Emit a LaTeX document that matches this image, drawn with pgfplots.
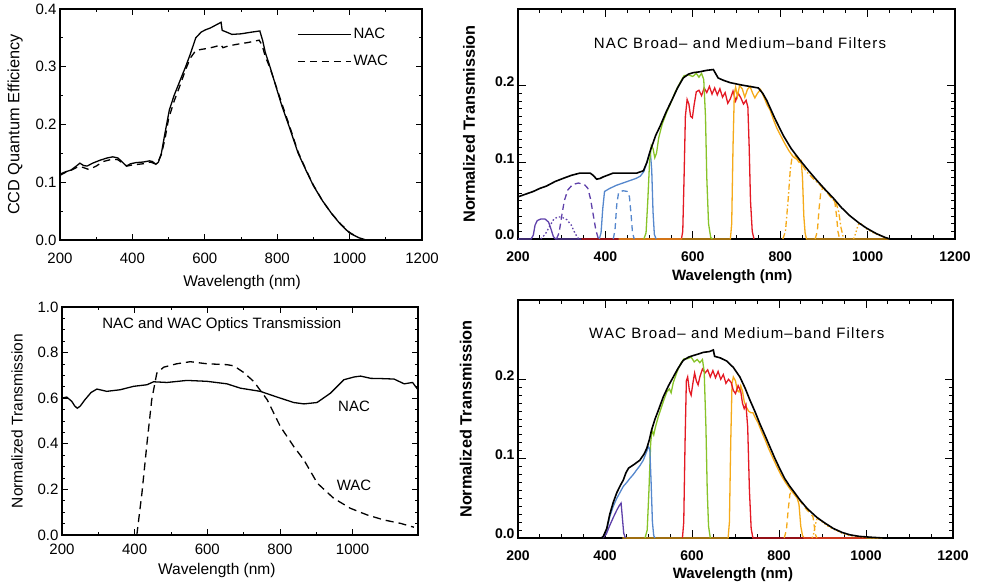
\documentclass[border=0pt]{standalone}
\usepackage{fontspec}
\setmainfont{Liberation Sans}
\usepackage{pgfplots}
\pgfplotsset{compat=1.18}
\definecolor{cpurple}{RGB}{95,65,170}
\definecolor{cblue}{RGB}{85,135,205}
\definecolor{cgreen}{RGB}{135,195,40}
\definecolor{cred}{RGB}{228,25,35}
\definecolor{corange}{RGB}{245,170,25}
\pgfplotsset{
  base/.style={scale only axis, clip=false, tick align=inside,
    /pgf/number format/assume math mode=true,
    xticklabel style={/pgf/number format/1000 sep={}},
    yticklabel style={/pgf/number format/fixed, /pgf/number format/fixed zerofill, /pgf/number format/precision=1},
    axis line style={line width=1.1pt}, tick style={line width=0.9pt, black},
    every axis plot/.append style={no marks},
  },
  panelL/.style={base, major tick length=6pt, minor tick length=3pt,
    tick label style={font=\fontsize{15}{15}\selectfont},
    label style={font=\fontsize{15.5}{15.5}\selectfont},
  },
  panelR/.style={base, major tick length=8pt, minor tick length=4pt,
    xmin=200, xmax=1200, ymin=0, ymax=0.3,
    xtick={200,400,...,1200}, ytick={0,0.1,0.2}, minor x tick num=3, minor y tick num=9,
    tick label style={font=\bfseries\fontsize{14}{14}\selectfont},
    label style={font=\bfseries\fontsize{15}{15}\selectfont},
    ylabel style={font=\bfseries\fontsize{16.3}{16.3}\selectfont},
    xticklabel style={yshift=-9pt},
    yticklabel style={yshift=4pt},
    xlabel={Wavelength (nm)}, ylabel={Normalized Transmission},
    every axis plot/.append style={line width=1.3pt},
  },
}
\begin{document}
\begin{tikzpicture}
\path[use as bounding box] (0pt,0pt) rectangle (981pt,585pt);

% ---------- Panel 1: CCD QE ----------
\begin{axis}[panelL, at={(60pt,345pt)}, anchor=south west, width=362pt, height=231pt,
  xmin=200, xmax=1200, ymin=0, ymax=0.4,
  xtick={200,400,...,1200}, ytick={0,0.1,0.2,0.3,0.4}, minor x tick num=1, minor y tick num=1,
  xticklabel style={yshift=-10pt},
  xlabel={Wavelength (nm)}, ylabel={CCD Quantum Efficiency},
  xlabel style={at={(axis description cs:0.503,-0.186)}, anchor=center},
  ylabel style={at={(axis description cs:-0.124,0.5)}, anchor=center, font=\fontsize{16.3}{16.3}\selectfont},
  legend style={draw=none, fill=none, at={(axis description cs:0.655,0.925)}, anchor=north west,
    font=\fontsize{15}{15}\selectfont, row sep=11pt, inner sep=0pt},
  legend cell align=left,
  legend image code/.code={\draw[#1] (0pt,0pt) -- (53pt,0pt);},
]
\addplot[black, line width=1.3pt] coordinates {(200,0.114)(215,0.118)(230,0.121)(245,0.128)(255,0.133)(265,0.129)(275,0.128)(290,0.133)(310,0.138)(330,0.142)(346,0.144)(360,0.142)(372,0.135)(383,0.128)(395,0.132)(410,0.134)(430,0.135)(447,0.137)(455,0.136)(465,0.131)(472,0.135)(480,0.150)(490,0.185)(502,0.225)(515,0.250)(529,0.272)(547,0.300)(560,0.322)(575,0.350)(590,0.360)(602,0.364)(615,0.367)(630,0.372)(645,0.377)(648,0.363)(660,0.360)(675,0.356)(700,0.357)(730,0.360)(752,0.362)(760,0.345)(767,0.325)(780,0.300)(794,0.271)(813,0.232)(831,0.200)(858,0.150)(880,0.120)(900,0.094)(925,0.068)(950,0.046)(975,0.027)(1000,0.012)(1025,0.004)(1046,0)};
\addlegendentry{NAC}
\addplot[black, line width=1.3pt, dash pattern=on 7pt off 5pt] coordinates {(200,0.112)(215,0.117)(235,0.122)(250,0.127)(262,0.126)(280,0.122)(300,0.128)(320,0.136)(345,0.140)(360,0.139)(375,0.132)(385,0.128)(400,0.130)(430,0.132)(450,0.135)(462,0.132)(470,0.134)(480,0.148)(490,0.175)(500,0.210)(515,0.240)(530,0.265)(547,0.295)(560,0.315)(575,0.328)(590,0.330)(610,0.332)(630,0.335)(645,0.338)(650,0.333)(665,0.336)(690,0.339)(720,0.342)(750,0.346)(758,0.338)(767,0.318)(780,0.298)(794,0.272)(813,0.236)(831,0.203)(858,0.152)(880,0.121)(900,0.095)(925,0.068)(950,0.046)(975,0.028)(1000,0.013)(1025,0.004)};
\addlegendentry{WAC}
\end{axis}

% ---------- Panel 3: optics transmission ----------
\begin{axis}[panelL, at={(62pt,50pt)}, anchor=south west, width=356pt, height=228pt,
  xmin=200, xmax=1180, ymin=0, ymax=1,
  xtick={200,400,...,1000}, ytick={0,0.2,0.4,0.6,0.8,1.0}, minor x tick num=1, minor y tick num=3,
  xticklabel style={yshift=-5pt},
  xlabel={Wavelength (nm)}, ylabel={Normalized Transmission},
  xlabel style={at={(axis description cs:0.435,-0.154)}, anchor=center},
  ylabel style={at={(axis description cs:-0.126,0.5)}, anchor=center},
]
\addplot[black, line width=1.3pt] coordinates {(200,0.600)(213,0.605)(227,0.586)(235,0.566)(242,0.556)(250,0.565)(263,0.593)(280,0.625)(296,0.640)(310,0.635)(323,0.630)(360,0.637)(397,0.652)(434,0.659)(452,0.672)(489,0.669)(544,0.678)(599,0.674)(654,0.663)(691,0.644)(746,0.630)(792,0.605)(838,0.581)(866,0.575)(902,0.581)(939,0.622)(976,0.681)(1004,0.693)(1022,0.697)(1050,0.687)(1080,0.686)(1114,0.684)(1142,0.663)(1165,0.669)(1180,0.637)};
\addplot[black, line width=1.3pt, dash pattern=on 8pt off 5pt] coordinates {(406,0)(420,0.183)(434,0.403)(447,0.593)(461,0.710)(480,0.736)(516,0.751)(553,0.760)(599,0.751)(654,0.747)(673,0.742)(700,0.713)(728,0.673)(765,0.593)(801,0.476)(838,0.388)(866,0.329)(903,0.227)(948,0.161)(994,0.117)(1040,0.088)(1086,0.066)(1132,0.051)(1169,0.034)};
\node[font=\fontsize{15}{15}\selectfont] at (axis description cs:0.449,0.921) {NAC and WAC Optics Transmission};
\node[font=\fontsize{15}{15}\selectfont] at (axis cs:1004,0.564) {NAC};
\node[font=\fontsize{15}{15}\selectfont] at (axis cs:1004,0.220) {WAC};
\end{axis}

% ---------- Panel 2: NAC filters ----------
\begin{axis}[panelR, at={(518pt,346pt)}, anchor=south west, width=437pt, height=230pt,
  xlabel style={at={(axis description cs:0.49,-0.165)}, anchor=center},
  ylabel style={at={(axis description cs:-0.112,0.5)}, anchor=center},
]
\addplot[cred] coordinates {(345,0)(430,0)(574,0)(577,0.01)(580,0.08)(583,0.16)(587,0.182)(591,0.176)(595,0.160)(599,0.158)(603,0.175)(608,0.192)(614,0.194)(620,0.187)(626,0.197)(632,0.191)(638,0.199)(644,0.189)(650,0.197)(656,0.188)(662,0.196)(668,0.185)(674,0.191)(680,0.177)(686,0.183)(692,0.193)(698,0.180)(704,0.190)(710,0.184)(716,0.176)(722,0.181)(726,0.172)(729,0.12)(732,0.05)(736,0.01)(740,0)};
\addplot[corange] coordinates {(430,0)(686,0)(689,0.02)(692,0.12)(695,0.19)(698,0.198)(702,0.186)(707,0.2)(713,0.196)(719,0.185)(725,0.195)(731,0.199)(737,0.19)(742,0.184)(748,0.19)(755,0.195)(762,0.186)(770,0.175)(777,0.168)(785,0.155)(792,0.145)(800,0.136)(810,0.125)(820,0.115)(830,0.107)(838,0.104)(843,0.100)(848,0.102)(851,0.08)(854,0.03)(857,0.008)(860,0)(1060,0)};
\addplot[cpurple, dash pattern=on 6pt off 4pt] coordinates {(288,0)(294,0.008)(300,0.03)(306,0.05)(314,0.064)(325,0.071)(338,0.073)(352,0.071)(360,0.066)(366,0.052)(372,0.032)(378,0.012)(383,0.002)(387,0)};
\addplot[cpurple, dash pattern=on 1.5pt off 2.2pt] coordinates {(252,0)(262,0.006)(272,0.016)(282,0.026)(292,0.029)(302,0.028)(312,0.025)(322,0.018)(330,0.008)(336,0.002)(340,0)};
\addplot[cblue, dash pattern=on 6pt off 4pt] coordinates {(418,0)(422,0.012)(426,0.045)(430,0.060)(440,0.063)(450,0.062)(455,0.055)(459,0.030)(462,0.008)(466,0)};
\addplot[cblue] coordinates {(386,0)(390,0.008)(394,0.04)(398,0.062)(410,0.066)(425,0.070)(440,0.073)(455,0.076)(470,0.079)(480,0.082)(488,0.088)(495,0.100)(500,0.110)(503,0.112)(506,0.09)(509,0.035)(512,0.006)(516,0)};
\addplot[cgreen] coordinates {(488,0)(493,0.008)(497,0.05)(501,0.10)(505,0.122)(509,0.118)(513,0.106)(517,0.112)(522,0.132)(530,0.150)(540,0.165)(550,0.178)(560,0.192)(570,0.203)(580,0.213)(590,0.214)(600,0.212)(608,0.216)(614,0.211)(620,0.216)(625,0.208)(629,0.16)(632,0.08)(636,0.02)(641,0.002)(645,0)};
\addplot[corange, dash pattern=on 6pt off 2.5pt on 1.5pt off 2.5pt] coordinates {(806,0)(812,0.01)(818,0.05)(823,0.09)(828,0.11)(835,0.108)(845,0.101)(860,0.088)(875,0.079)(890,0.071)(905,0.062)(918,0.053)(928,0.047)(934,0.035)(939,0.015)(944,0.003)(948,0)};
\addplot[corange, dash pattern=on 6pt off 4pt] coordinates {(880,0)(885,0.01)(889,0.04)(893,0.062)(898,0.067)(908,0.061)(918,0.053)(925,0.048)(929,0.03)(932,0.01)(936,0)};
\addplot[corange, dash pattern=on 1.5pt off 2.2pt] coordinates {(968,0)(973,0.008)(978,0.018)(983,0.021)(995,0.014)(1010,0.009)(1025,0.005)(1040,0.002)(1050,0)};
\addplot[cpurple] coordinates {(200,0)(230,0)(235,0.005)(239,0.018)(244,0.024)(252,0.026)(262,0.026)(270,0.022)(276,0.012)(281,0.003)(286,0)(345,0)};
\addplot[black, line width=1.6pt] coordinates {(200,0.055)(215,0.058)(235,0.062)(250,0.066)(265,0.069)(285,0.075)(303,0.079)(322,0.083)(342,0.086)(365,0.086)(372,0.083)(380,0.078)(388,0.079)(395,0.081)(418,0.086)(445,0.086)(472,0.086)(487,0.089)(495,0.100)(502,0.114)(515,0.135)(525,0.147)(540,0.167)(552,0.181)(565,0.197)(578,0.210)(590,0.215)(601,0.217)(615,0.218)(632,0.220)(647,0.221)(652,0.216)(658,0.210)(670,0.207)(685,0.204)(710,0.201)(730,0.199)(750,0.197)(760,0.19)(769,0.181)(788,0.157)(807,0.135)(825,0.118)(845,0.103)(865,0.089)(883,0.077)(902,0.065)(922,0.053)(940,0.041)(960,0.030)(980,0.021)(998,0.014)(1020,0.007)(1040,0.002)(1051,0)(1200,0)};
\node[font=\fontsize{15}{15}\selectfont\addfontfeatures{LetterSpace=8}] at (axis description cs:0.508,0.852) {NAC Broad-- and Medium--band Filters};
\end{axis}

% ---------- Panel 4: WAC filters ----------
\begin{axis}[panelR, at={(518pt,47pt)}, anchor=south west, width=435pt, height=238pt,
  xlabel style={at={(axis description cs:0.494,-0.155)}, anchor=center},
  ylabel style={at={(axis description cs:-0.12,0.5)}, anchor=center},
]
\addplot[corange] coordinates {(440,0)(683,0)(686,0.02)(689,0.12)(692,0.195)(695,0.203)(700,0.198)(704,0.186)(708,0.184)(712,0.192)(716,0.185)(720,0.172)(725,0.165)(730,0.160)(735,0.158)(740,0.158)(745,0.152)(752,0.145)(760,0.134)(768,0.124)(776,0.113)(785,0.102)(795,0.090)(805,0.079)(815,0.070)(825,0.062)(835,0.055)(842,0.050)(846,0.042)(850,0.015)(854,0.003)(858,0)(1060,0)};
\addplot[cred] coordinates {(578,0)(581,0.02)(584,0.12)(587,0.198)(590,0.203)(594,0.186)(598,0.18)(602,0.195)(606,0.208)(610,0.198)(614,0.193)(618,0.203)(624,0.213)(630,0.208)(636,0.212)(642,0.203)(648,0.211)(654,0.202)(660,0.210)(666,0.200)(672,0.206)(678,0.195)(684,0.200)(690,0.196)(695,0.186)(700,0.182)(706,0.192)(712,0.185)(716,0.170)(720,0.163)(724,0.168)(728,0.14)(732,0.06)(736,0.012)(740,0)(1000,0)};
\addplot[cgreen] coordinates {(492,0)(497,0.01)(501,0.06)(505,0.12)(508,0.136)(512,0.130)(516,0.140)(522,0.152)(534,0.172)(542,0.184)(548,0.188)(552,0.183)(557,0.196)(566,0.210)(575,0.221)(582,0.226)(590,0.226)(598,0.228)(605,0.222)(612,0.225)(618,0.221)(624,0.225)(628,0.21)(632,0.14)(635,0.06)(638,0.015)(642,0)};
\addplot[cblue] coordinates {(392,0)(398,0.003)(404,0.010)(411,0.027)(419,0.040)(427,0.050)(435,0.058)(442,0.065)(450,0.070)(457,0.075)(465,0.080)(473,0.086)(480,0.091)(488,0.098)(495,0.108)(500,0.115)(503,0.112)(506,0.07)(509,0.02)(512,0.003)(515,0)};
\addplot[cpurple] coordinates {(395,0)(403,0.005)(411,0.016)(420,0.027)(427,0.035)(433,0.041)(437,0.044)(440,0.025)(443,0.006)(447,0)};
\addplot[corange, dash pattern=on 6pt off 4pt] coordinates {(812,0)(817,0.01)(821,0.035)(825,0.055)(830,0.060)(836,0.056)(848,0.047)(860,0.038)(870,0.032)(878,0.027)(881,0.015)(884,0.004)(887,0)};
\addplot[corange, dash pattern=on 1.5pt off 2.2pt] coordinates {(876,0)(880,0.006)(884,0.018)(888,0.025)(900,0.020)(915,0.014)(930,0.010)(945,0.006)(963,0.003)(985,0.0015)(1010,0.0005)(1040,0)};
\addplot[black, line width=1.6pt] coordinates {(200,0)(392,0)(396,0.002)(404,0.012)(411,0.030)(419,0.045)(427,0.057)(435,0.066)(442,0.073)(448,0.082)(454,0.088)(465,0.092)(480,0.098)(490,0.106)(496,0.113)(502,0.124)(507,0.136)(515,0.150)(522,0.160)(534,0.178)(546,0.192)(557,0.203)(568,0.214)(580,0.224)(592,0.228)(603,0.230)(615,0.232)(626,0.234)(640,0.235)(649,0.237)(652,0.229)(665,0.227)(680,0.223)(695,0.215)(710,0.203)(722,0.189)(733,0.174)(745,0.159)(756,0.144)(768,0.129)(779,0.115)(790,0.101)(802,0.087)(813,0.075)(825,0.065)(836,0.057)(848,0.048)(865,0.037)(887,0.026)(905,0.019)(925,0.012)(945,0.007)(963,0.004)(985,0.002)(1010,0.001)(1040,0)(1200,0)};
\node[font=\fontsize{15}{15}\selectfont\addfontfeatures{LetterSpace=8}] at (axis description cs:0.503,0.861) {WAC Broad-- and Medium--band Filters};
\end{axis}
\end{tikzpicture}
\end{document}
